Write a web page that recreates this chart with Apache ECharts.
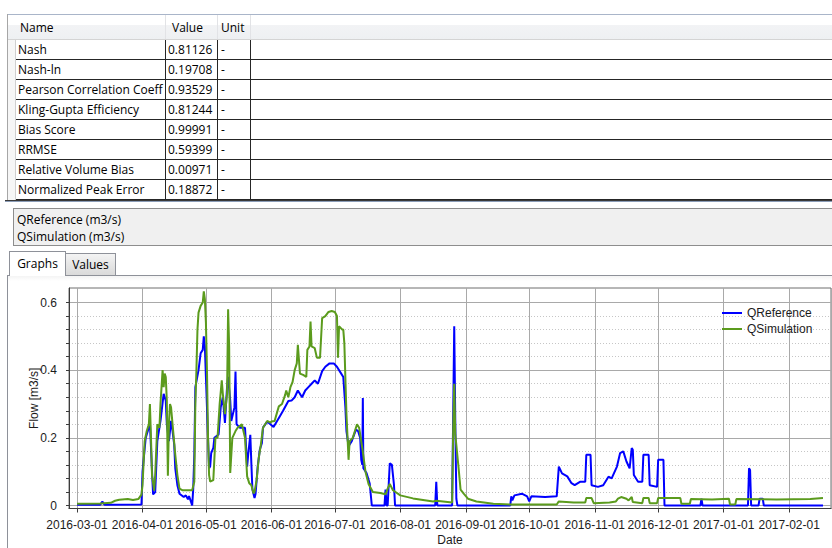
<!DOCTYPE html>
<html>
<head>
<meta charset="utf-8">
<title>Flow comparison</title>
<script src="https://cdn.jsdelivr.net/npm/echarts@6.0.0/dist/echarts.min.js"></script>
<style>
  html, body { margin: 0; padding: 0; }
  body {
    width: 832px; height: 548px; overflow: hidden; position: relative; background: #fff;
    font-family: "Open Sans", "Noto Sans", sans-serif; font-size: 12px; color: #000;
  }
  .abs { position: absolute; box-sizing: border-box; white-space: nowrap; }
  #chart { position: absolute; left: 0; top: 0; width: 832px; height: 548px; z-index: 10; }
</style>
</head>
<body>
<div id="ui"></div>
<div id="chart"></div>
<script>
// ---- statistics table ----
const metricNames = [
  'Nash', 'Nash-ln', 'Pearson Correlation Coeff', 'Kling-Gupta Efficiency',
  'Bias Score', 'RRMSE', 'Relative Volume Bias', 'Normalized Peak Error'
];
const metricValues = [0.81126, 0.19708, 0.93529, 0.81244, 0.99991, 0.59399, 0.00971, 0.18872];
const metricUnit = '-';
const tableHeaders = ['Name', 'Value', 'Unit'];

// ---- series ----
const seriesNames = ['QReference', 'QSimulation'];
const flowUnit = 'm3/s';

const refDates = [
  '2016-03-01', '2016-03-12', '2016-03-13', '2016-03-14', '2016-03-31 12:00',
  '2016-04-01', '2016-04-02 12:00', '2016-04-03 12:00', '2016-04-04 12:00', '2016-04-05 12:00',
  '2016-04-06', '2016-04-07', '2016-04-08', '2016-04-09 12:00', '2016-04-11',
  '2016-04-12', '2016-04-12 12:00', '2016-04-13 12:00', '2016-04-14 12:00', '2016-04-15',
  '2016-04-16', '2016-04-16 12:00', '2016-04-17 12:00', '2016-04-18 12:00', '2016-04-20 12:00',
  '2016-04-21 12:00', '2016-04-22 12:00', '2016-04-23', '2016-04-24', '2016-04-24 12:00',
  '2016-04-25', '2016-04-25 12:00', '2016-04-26', '2016-04-27 12:00', '2016-04-28 12:00',
  '2016-04-29 12:00', '2016-04-30', '2016-04-30 12:00', '2016-05-01', '2016-05-02',
  '2016-05-02 12:00', '2016-05-03', '2016-05-03 12:00', '2016-05-04 12:00', '2016-05-05',
  '2016-05-07', '2016-05-08', '2016-05-09', '2016-05-10', '2016-05-11',
  '2016-05-11 12:00', '2016-05-12 12:00', '2016-05-13', '2016-05-14 12:00', '2016-05-15',
  '2016-05-15 12:00', '2016-05-17', '2016-05-19 12:00', '2016-05-20 12:00', '2016-05-21',
  '2016-05-22', '2016-05-22 12:00', '2016-05-23', '2016-05-24', '2016-05-24 12:00',
  '2016-05-25 12:00', '2016-05-26 12:00', '2016-05-27 12:00', '2016-05-28', '2016-05-30',
  '2016-05-31 12:00', '2016-06-02', '2016-06-05', '2016-06-06 12:00', '2016-06-09',
  '2016-06-10 12:00', '2016-06-12', '2016-06-13 12:00', '2016-06-15 12:00', '2016-06-17',
  '2016-06-18 12:00', '2016-06-20', '2016-06-21 12:00', '2016-06-23', '2016-06-25',
  '2016-06-26 12:00', '2016-06-28 12:00', '2016-06-30 12:00', '2016-07-02', '2016-07-03 12:00',
  '2016-07-05', '2016-07-06', '2016-07-06 12:00', '2016-07-07 12:00', '2016-07-09',
  '2016-07-11', '2016-07-12', '2016-07-13', '2016-07-13 12:00', '2016-07-14',
  '2016-07-14 06:00', '2016-07-14 12:00', '2016-07-16', '2016-07-17 12:00', '2016-07-18 12:00',
  '2016-07-24 12:00', '2016-07-25', '2016-07-25 12:00', '2016-07-26', '2016-07-27',
  '2016-07-28', '2016-07-29', '2016-07-29 12:00', '2016-08-17 12:00', '2016-08-18',
  '2016-08-18 12:00', '2016-08-25 12:00', '2016-08-26 12:00', '2016-08-27', '2016-08-27 12:00',
  '2016-08-28', '2016-09-22', '2016-09-22 12:00', '2016-09-23', '2016-09-24',
  '2016-09-27 12:00', '2016-09-30', '2016-10-01', '2016-10-02', '2016-10-08 12:00',
  '2016-10-14', '2016-10-15', '2016-10-16 12:00', '2016-10-19', '2016-10-21',
  '2016-10-22 12:00', '2016-10-25', '2016-10-27 12:00', '2016-10-28', '2016-10-30',
  '2016-10-30 12:00', '2016-11-02 12:00', '2016-11-05', '2016-11-07 12:00', '2016-11-09',
  '2016-11-11 12:00', '2016-11-13', '2016-11-14 12:00', '2016-11-16', '2016-11-17 12:00',
  '2016-11-18 12:00', '2016-11-19', '2016-11-19 12:00', '2016-11-21 12:00', '2016-11-23 12:00',
  '2016-11-24', '2016-11-26 12:00', '2016-11-27', '2016-11-30 12:00', '2016-12-01',
  '2016-12-03 12:00', '2016-12-04', '2016-12-21', '2016-12-21 12:00', '2016-12-22',
  '2017-01-12 12:00', '2017-01-13', '2017-01-13 12:00', '2017-01-14', '2017-01-17 12:00',
  '2017-01-18', '2017-01-19 12:00', '2017-01-20', '2017-02-17'
];
const refFlow = [
  0.002, 0.002, 0.012, 0.002, 0.003,
  0.10, 0.20, 0.22, 0.245, 0.10,
  0.033, 0.04, 0.19, 0.25, 0.33,
  0.31, 0.24, 0.19, 0.25, 0.23,
  0.18, 0.11, 0.06, 0.035, 0.025,
  0.03, 0.018, 0.028, 0.01, 0.0,
  0.05, 0.15, 0.35, 0.40, 0.45,
  0.46, 0.50, 0.47, 0.38, 0.20,
  0.11, 0.115, 0.155, 0.17, 0.20,
  0.21, 0.29, 0.32, 0.244, 0.35,
  0.38, 0.31, 0.25, 0.29, 0.396,
  0.24, 0.23, 0.23, 0.115, 0.15,
  0.209, 0.125, 0.047, 0.022, 0.035,
  0.115, 0.165, 0.185, 0.23, 0.248,
  0.24, 0.232, 0.264, 0.28, 0.309,
  0.31, 0.32, 0.34, 0.32, 0.34,
  0.35, 0.36, 0.37, 0.36, 0.397,
  0.41, 0.42, 0.42, 0.41, 0.395,
  0.38, 0.29, 0.22, 0.175, 0.19,
  0.224, 0.22, 0.20, 0.135, 0.12,
  0.318, 0.11, 0.096, 0.065, 0.0,
  0.0, 0.047, 0.0, 0.0, 0.125,
  0.12, 0.06, 0.0, 0.0, 0.07,
  0.0, 0.0, 0.53, 0.25, 0.02,
  0.0, 0.0, 0.027, 0.015, 0.03,
  0.035, 0.027, 0.012, 0.027, 0.025,
  0.027, 0.115, 0.095, 0.086, 0.066,
  0.06, 0.07, 0.07, 0.15, 0.15,
  0.06, 0.055, 0.06, 0.085, 0.08,
  0.115, 0.155, 0.16, 0.13, 0.11,
  0.17, 0.165, 0.09, 0.07, 0.07,
  0.15, 0.15, 0.06, 0.055, 0.135,
  0.135, 0.0, 0.0, 0.02, 0.0,
  0.0, 0.11, 0.105, 0.0, 0.0,
  0.02, 0.02, 0.0, 0.0
];

const simDates = [
  '2016-03-01', '2016-03-12', '2016-03-17', '2016-03-19', '2016-03-21',
  '2016-03-25', '2016-03-27 12:00', '2016-03-30', '2016-03-31 12:00', '2016-04-01',
  '2016-04-02', '2016-04-03', '2016-04-04', '2016-04-04 12:00', '2016-04-05',
  '2016-04-05 12:00', '2016-04-06 12:00', '2016-04-07', '2016-04-08', '2016-04-09',
  '2016-04-09 12:00', '2016-04-10 12:00', '2016-04-11', '2016-04-11 12:00', '2016-04-12',
  '2016-04-12 12:00', '2016-04-13', '2016-04-13 12:00', '2016-04-14', '2016-04-14 12:00',
  '2016-04-15 12:00', '2016-04-16 12:00', '2016-04-17 12:00', '2016-04-18 12:00', '2016-04-20',
  '2016-04-24 12:00', '2016-04-25 12:00', '2016-04-26', '2016-04-26 12:00', '2016-04-27',
  '2016-04-27 12:00', '2016-04-28 12:00', '2016-04-29 12:00', '2016-04-30', '2016-04-30 12:00',
  '2016-05-01', '2016-05-01 12:00', '2016-05-02', '2016-05-02 12:00', '2016-05-03',
  '2016-05-04 12:00', '2016-05-05 12:00', '2016-05-06 12:00', '2016-05-07 12:00', '2016-05-08 12:00',
  '2016-05-09', '2016-05-10', '2016-05-11', '2016-05-11 12:00', '2016-05-12',
  '2016-05-12 12:00', '2016-05-13 12:00', '2016-05-15', '2016-05-16', '2016-05-18',
  '2016-05-19 12:00', '2016-05-20 12:00', '2016-05-21 12:00', '2016-05-22 12:00', '2016-05-23 12:00',
  '2016-05-24', '2016-05-25', '2016-05-26', '2016-05-27', '2016-05-28',
  '2016-05-30', '2016-05-31 12:00', '2016-06-01', '2016-06-02 12:00', '2016-06-04 12:00',
  '2016-06-06', '2016-06-07 12:00', '2016-06-08', '2016-06-09', '2016-06-10',
  '2016-06-11', '2016-06-12', '2016-06-13', '2016-06-13 12:00', '2016-06-14 12:00',
  '2016-06-16', '2016-06-17 12:00', '2016-06-18', '2016-06-19', '2016-06-19 12:00',
  '2016-06-20', '2016-06-21 12:00', '2016-06-22 12:00', '2016-06-24', '2016-06-25',
  '2016-06-26 12:00', '2016-06-28', '2016-06-29 12:00', '2016-07-01', '2016-07-02',
  '2016-07-02 12:00', '2016-07-03', '2016-07-04 12:00', '2016-07-05', '2016-07-05 12:00',
  '2016-07-06 12:00', '2016-07-07 12:00', '2016-07-08', '2016-07-09 12:00', '2016-07-10 12:00',
  '2016-07-11 12:00', '2016-07-12 12:00', '2016-07-14', '2016-07-15 12:00', '2016-07-17',
  '2016-07-19', '2016-07-22 12:00', '2016-07-25', '2016-07-26', '2016-07-27',
  '2016-07-28 12:00', '2016-08-01', '2016-08-07', '2016-08-16 12:00', '2016-08-18',
  '2016-08-25 12:00', '2016-08-26', '2016-08-26 12:00', '2016-08-27', '2016-08-28 12:00',
  '2016-08-29 12:00', '2016-08-31', '2016-09-02', '2016-09-06', '2016-09-14',
  '2016-09-22', '2016-10-14', '2016-10-15', '2016-10-22', '2016-10-27 12:00',
  '2016-10-28', '2016-10-30 12:00', '2016-10-31 12:00', '2016-11-08', '2016-11-11',
  '2016-11-12', '2016-11-13 12:00', '2016-11-16', '2016-11-17', '2016-11-18 12:00',
  '2016-11-19', '2016-11-23 12:00', '2016-11-24', '2016-11-26 12:00', '2016-11-27',
  '2016-11-30 12:00', '2016-12-01', '2016-12-11 12:00', '2016-12-12', '2016-12-16',
  '2016-12-16 12:00', '2016-12-26 12:00', '2017-01-03 12:00', '2017-01-04', '2017-01-06 12:00',
  '2017-01-07', '2017-01-26', '2017-02-11', '2017-02-17'
];
const simFlow = [
  0.005, 0.006, 0.008, 0.014, 0.017,
  0.019, 0.016, 0.019, 0.032, 0.06,
  0.19, 0.22, 0.24, 0.30, 0.20,
  0.088, 0.044, 0.09, 0.24, 0.23,
  0.30, 0.40, 0.35, 0.39, 0.38,
  0.31, 0.088, 0.24, 0.30, 0.29,
  0.22, 0.15, 0.09, 0.05, 0.045,
  0.045, 0.07, 0.30, 0.40, 0.52,
  0.57, 0.59, 0.60, 0.633, 0.61,
  0.54, 0.40, 0.20, 0.09, 0.071,
  0.075, 0.20, 0.20, 0.30, 0.37,
  0.33, 0.27, 0.33, 0.58, 0.47,
  0.096, 0.20, 0.22, 0.23, 0.24,
  0.20, 0.086, 0.066, 0.06, 0.036,
  0.04, 0.075, 0.14, 0.18, 0.23,
  0.25, 0.245, 0.248, 0.25, 0.293,
  0.30, 0.327, 0.34, 0.32, 0.35,
  0.365, 0.40, 0.42, 0.475, 0.39,
  0.386, 0.38, 0.46, 0.47, 0.544,
  0.47, 0.465, 0.437, 0.437, 0.554,
  0.56, 0.572, 0.575, 0.572, 0.56,
  0.437, 0.53, 0.52, 0.52, 0.48,
  0.27, 0.135, 0.19, 0.20, 0.22,
  0.24, 0.23, 0.17, 0.10, 0.063,
  0.04, 0.037, 0.033, 0.05, 0.064,
  0.045, 0.03, 0.021, 0.012, 0.014,
  0.009, 0.22, 0.36, 0.21, 0.115,
  0.047, 0.035, 0.02, 0.012, 0.005,
  0.003, 0.003, 0.012, 0.009, 0.009,
  0.022, 0.022, 0.007, 0.009, 0.012,
  0.02, 0.025, 0.02, 0.015, 0.025,
  0.01, 0.007, 0.022, 0.022, 0.007,
  0.007, 0.022, 0.022, 0.005, 0.005,
  0.019, 0.018, 0.02, 0.003, 0.003,
  0.019, 0.018, 0.019, 0.022
];

// visible date range of the plot
const axisStart = '2016-02-26 05:00';
const axisEnd = '2017-02-20 19:00';

const seriesColors = ['#0000ff', '#5b9b1d'];

// ---------- window chrome: statistics grid, unit panel, tabs ----------
const ui = document.getElementById('ui');
function box(css, text) {
  const d = document.createElement('div');
  d.className = 'abs';
  d.setAttribute('style', css);
  if (text !== undefined) d.textContent = text;
  ui.appendChild(d);
  return d;
}

const sepX = [165, 217, 250];           // column separators
const rowTop = 40, rowH = 20;

// grid frame
box('left:7px;top:14px;width:825px;height:1px;background:#a9b5c9;');
box('left:7px;top:14px;width:1px;height:187px;background:#a6a6a6;');
// header
box('left:8px;top:15px;width:824px;height:25px;background:linear-gradient(#ffffff 0%,#ffffff 42%,#f2f3f5 43%,#eef0f2 100%);border-bottom:1px solid #d4d4d4;');
sepX.forEach(x => box('left:' + x + 'px;top:15px;width:1px;height:24px;background:#e2e3e6;'));
box('left:20px;top:18px;line-height:19px;', tableHeaders[0]);
box('left:172px;top:18px;line-height:19px;', tableHeaders[1]);
box('left:221px;top:18px;line-height:19px;', tableHeaders[2]);
// row header strip
box('left:8px;top:40px;width:8px;height:' + (metricNames.length * rowH) + 'px;background:#f6f6f6;border-right:1px solid #cfcfcf;');
metricNames.forEach((name, i) => {
  const top = rowTop + i * rowH;
  box('left:16px;top:' + top + 'px;width:816px;height:' + rowH + 'px;border-bottom:1px solid #262626;');
  box('left:18px;top:' + top + 'px;line-height:19px;', name);
  box('left:168px;top:' + top + 'px;line-height:19px;', metricValues[i].toFixed(5));
  box('left:221px;top:' + top + 'px;line-height:19px;', metricUnit);
});
sepX.forEach(x => box('left:' + x + 'px;top:40px;width:1px;height:' + (metricNames.length * rowH) + 'px;background:#262626;'));
box('left:5px;top:200px;width:827px;height:1px;background:#3a3a3a;');
box('left:5px;top:201px;width:827px;height:1px;background:#8b9db8;');

// unit panel
const panel = box('left:13px;top:208px;width:830px;height:38px;background:#f0f0f0;border:1px solid #8d8d8d;padding:2px 0 0 3px;line-height:17px;');
panel.innerHTML = seriesNames.map(n => n + ' (' + flowUnit + ')').join('<br>');

// tab control
box('left:7px;top:275px;width:825px;height:1px;background:#8e9199;');
box('left:7px;top:275px;width:1px;height:273px;background:#8e9199;');
box('left:8px;top:276px;width:824px;height:5px;background:linear-gradient(#f4f4f4,#ffffff);');
box('left:65px;top:253px;width:51px;height:22px;border:1px solid #8e9199;border-bottom:none;background:linear-gradient(#f4f4f4,#e6e6e6 50%,#dadada);text-align:center;line-height:22px;', 'Values');
box('left:9px;top:251px;width:57px;height:25px;border:1px solid #8e9199;border-bottom:none;background:#ffffff;text-align:center;line-height:23px;', 'Graphs');

// ---------- flow chart ----------
const DAY = 24 * 3600 * 1000;
const textColor = '#1c1c1c';
const axisColor = '#3c3c3c';
const fontFamily = '"Liberation Sans", Arial, sans-serif';
const pairs = (dates, vals) => dates.map((d, i) => [d, vals[i]]);

const chart = echarts.init(document.getElementById('chart'), null, { renderer: 'svg' });
chart.setOption({
  animation: false,
  textStyle: { fontFamily: fontFamily },
  grid: [
    // band 0 .. 0.6 carrying the flow scale
    { left: 69, right: 1, top: 302.5, bottom: 42.5, outerBoundsMode: 'none' },
    // full plot frame
    { left: 69, right: 1, top: 288, bottom: 39.5, show: true, borderColor: '#6e6e6e', borderWidth: 1,
      backgroundColor: 'transparent', outerBoundsMode: 'none' }
  ],
  xAxis: [
    { type: 'time', gridIndex: 0, min: axisStart, max: axisEnd, show: false },
    {
      type: 'time', gridIndex: 1, min: axisStart, max: axisEnd,
      splitNumber: 12, minInterval: 28 * DAY, maxInterval: 31 * DAY,
      axisLine: { lineStyle: { color: axisColor } },
      axisTick: { show: true, length: 4, lineStyle: { color: axisColor } },
      axisLabel: { formatter: '{yyyy}-{MM}-{dd}', color: textColor, fontSize: 12, margin: 10,
                   showMinLabel: false, showMaxLabel: false, hideOverlap: false },
      splitLine: { show: true, lineStyle: { color: '#a9a9a9', width: 1 } },
      name: 'Date', nameLocation: 'middle', nameGap: 25,
      nameTextStyle: { color: textColor, fontSize: 12 }
    }
  ],
  yAxis: [
    {
      type: 'value', gridIndex: 0, min: 0, max: 0.6, interval: 0.2,
      axisLine: { show: true, lineStyle: { color: axisColor } },
      axisTick: { show: true, length: 3, lineStyle: { color: axisColor } },
      minorTick: { show: true, splitNumber: 5, length: 3, lineStyle: { color: axisColor } },
      axisLabel: { color: textColor, fontSize: 12, margin: 12 },
      splitLine: { show: true, lineStyle: { color: '#a9a9a9' } },
      minorSplitLine: { show: true, lineStyle: { color: '#c6c6c6', type: [1, 2] } }
    },
    {
      type: 'value', gridIndex: 1, min: 0, max: 1,
      axisLine: { show: true, lineStyle: { color: axisColor } },
      axisTick: { show: false }, axisLabel: { show: false }, splitLine: { show: false },
      name: 'Flow [m3/s]', nameLocation: 'middle', nameGap: 29, nameRotate: 90,
      nameTextStyle: { color: textColor, fontSize: 12 }
    }
  ],
  legend: {
    data: seriesNames, orient: 'vertical', left: 722, top: 307, padding: 0,
    icon: 'rect', itemWidth: 20, itemHeight: 2, itemGap: 4,
    textStyle: { color: textColor, fontSize: 12 }
  },
  series: [
    {
      name: seriesNames[0], type: 'line', xAxisIndex: 0, yAxisIndex: 0,
      data: pairs(refDates, refFlow), showSymbol: false, symbol: 'none', clip: false,
      lineStyle: { color: seriesColors[0], width: 2 }, itemStyle: { color: seriesColors[0] }, z: 2
    },
    {
      name: seriesNames[1], type: 'line', xAxisIndex: 0, yAxisIndex: 0,
      data: pairs(simDates, simFlow), showSymbol: false, symbol: 'none', clip: false,
      lineStyle: { color: seriesColors[1], width: 2 }, itemStyle: { color: seriesColors[1] }, z: 3
    }
  ]
});
</script>
</body>
</html>
